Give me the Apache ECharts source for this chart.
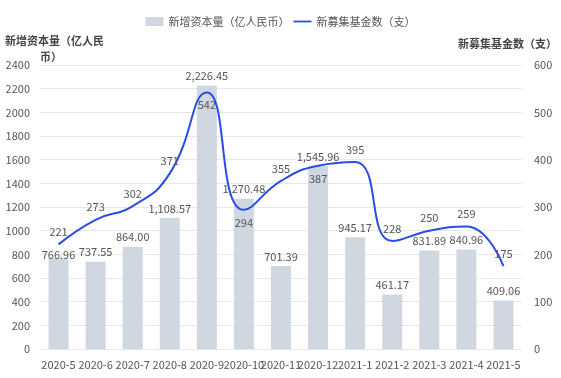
<!DOCTYPE html>
<html><head><meta charset="utf-8">
<script src="https://cdn.jsdelivr.net/npm/echarts@6/dist/echarts.min.js"></script>
<style>html,body{margin:0;padding:0;background:#fff}#c{width:561px;height:378px}</style>
</head><body><div id="c"></div>
<script>
const categories = ['2020-5','2020-6','2020-7','2020-8','2020-9','2020-10','2020-11','2020-12','2021-1','2021-2','2021-3','2021-4','2021-5'];
const capital = [766.96,737.55,864.00,1108.57,2226.45,1270.48,701.39,1545.96,945.17,461.17,831.89,840.96,409.06];
const funds = [221,273,302,371,542,294,355,387,395,228,250,259,175];
const leftTicks = [0,2400,200];
const rightTicks = [0,600,100];
const belowLabels = ['2020-9','2020-10','2020-12'];

const fmt = v => v.toLocaleString('en-US',{minimumFractionDigits:2,maximumFractionDigits:2});
const font = 'Noto Sans CJK SC, Noto Sans, sans-serif';
const chart = echarts.init(document.getElementById('c'));
chart.setOption({
  animation:false,
  textStyle:{fontFamily:font},
  legend:{top:11,left:'center',itemGap:4,itemWidth:18,itemHeight:9,
    textStyle:{fontSize:11,color:'#555',fontFamily:font},
    data:[{name:'新增资本量（亿人民币）',icon:'rect',itemStyle:{color:'#d1d7e1'}},
          {name:'新募集基金数（支）',icon:'path://M0,0 M20,10 M0,4 L20,4 L20,6 L0,6 Z',itemStyle:{color:'#2a4ce6',opacity:1,borderWidth:0}}]},
  grid:{left:40,right:39,top:65,bottom:29},
  graphic:[
    {type:'text',left:5,top:35,style:{text:'新增资本量（亿人民',font:'bold 11px '+font,fill:'#444'}},
    {type:'text',left:40,top:51,style:{text:'币）',font:'bold 11px '+font,fill:'#444'}},
    {type:'text',right:4,top:38,style:{text:'新募集基金数（支）',font:'bold 11px '+font,fill:'#444'}}
  ],
  xAxis:{type:'category',data:categories,
    axisLine:{show:false},axisTick:{show:false},
    axisLabel:{interval:0,fontSize:11,color:'#555',margin:10}},
  yAxis:[
    {type:'value',min:leftTicks[0],max:leftTicks[1],interval:leftTicks[2],
      axisLabel:{fontSize:11,color:'#555',margin:10,formatter:v=>String(v)},
      splitLine:{lineStyle:{color:'#e8e8e8'}},axisLine:{show:false},axisTick:{show:false}},
    {type:'value',min:rightTicks[0],max:rightTicks[1],interval:rightTicks[2],
      axisLabel:{fontSize:11,color:'#555',margin:12},
      splitLine:{show:false},axisLine:{show:false},axisTick:{show:false}}
  ],
  series:[
    {name:'新增资本量（亿人民币）',type:'bar',barWidth:20,yAxisIndex:0,
      itemStyle:{color:'#d1d7e1'},
      data:capital.map((v,i)=>({value:v,label:i===0?{offset:[0,6]}:undefined})),
      label:{show:true,position:'top',distance:4,fontSize:11,color:'#555',
        formatter:p=>fmt(p.value)}},
    {name:'新募集基金数（支）',type:'line',yAxisIndex:1,smooth:0.5,showSymbol:true,symbol:'circle',symbolSize:2,
      lineStyle:{color:'#2a4ce6',width:2},itemStyle:{color:'rgba(0,0,0,0)',borderWidth:0},
      emphasis:{disabled:true},
      data:funds.map((v,i)=>({value:v,label:belowLabels.includes(categories[i])?{position:'bottom'}:undefined})),
      label:{show:true,position:'top',distance:6,fontSize:11,color:'#555'}}
  ]
});
</script></body></html>
